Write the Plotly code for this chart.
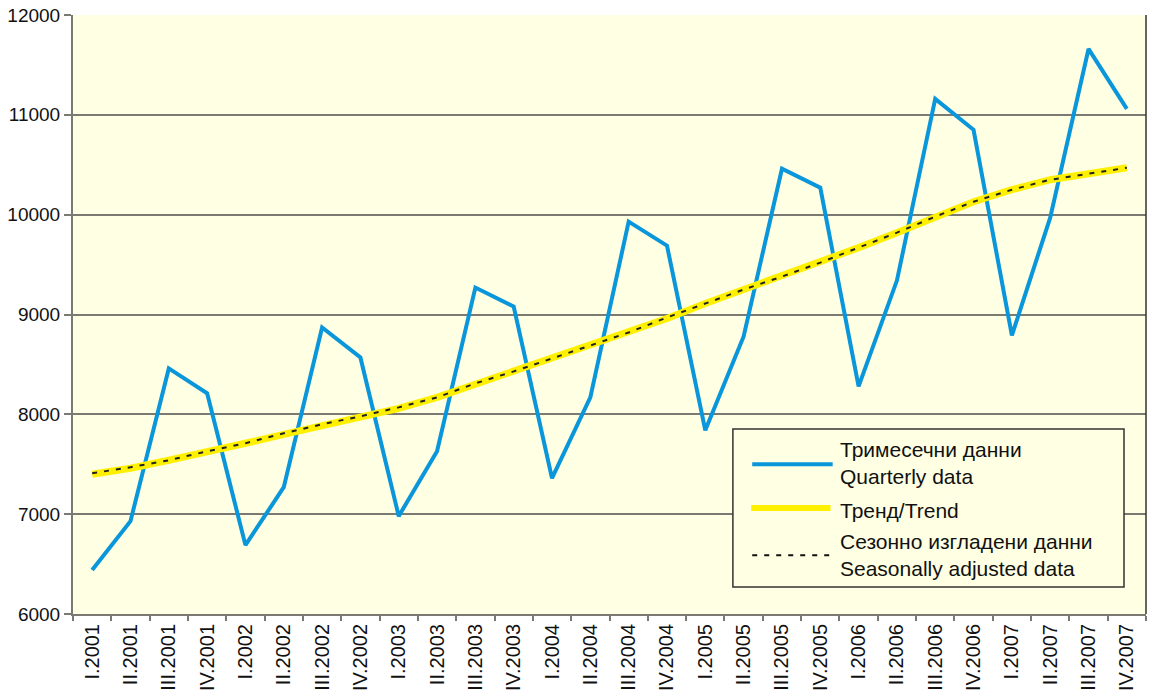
import plotly.graph_objects as go

quarters = [
    "I.2001", "II.2001", "III.2001", "IV.2001",
    "I.2002", "II.2002", "III.2002", "IV.2002",
    "I.2003", "II.2003", "III.2003", "IV.2003",
    "I.2004", "II.2004", "III.2004", "IV.2004",
    "I.2005", "II.2005", "III.2005", "IV.2005",
    "I.2006", "II.2006", "III.2006", "IV.2006",
    "I.2007", "II.2007", "III.2007", "IV.2007",
]

quarterly = [
    6440, 6930, 8460, 8210,
    6690, 7270, 8870, 8570,
    6980, 7630, 9270, 9080,
    7360, 8170, 9930, 9690,
    7840, 8780, 10460, 10270,
    8280, 9340, 11160, 10850,
    8790, 9970, 11660, 11060,
]

trend = [
    7400, 7460, 7540, 7620,
    7710, 7800, 7890, 7980,
    8060, 8170, 8300, 8430,
    8560, 8690, 8820, 8960,
    9110, 9250, 9380, 9520,
    9670, 9820, 9980, 10130,
    10250, 10350, 10410, 10470,
]

seas_adj = [
    7410, 7470, 7540, 7630,
    7710, 7810, 7900, 7980,
    8070, 8170, 8310, 8430,
    8560, 8690, 8820, 8970,
    9110, 9250, 9380, 9520,
    9670, 9820, 9980, 10130,
    10250, 10350, 10410, 10470,
]

y_ticks = [6000, 7000, 8000, 9000, 10000, 11000, 12000]

legend_lines = [
    "Тримесечни данни<br>Quarterly data",
    "Тренд/Trend",
    "Сезонно изгладени данни<br>Seasonally adjusted data",
]

BLUE = "#0A96DA"
YELLOW = "#FFF000"
BG = "#FFFFE3"
GRID = "#7A7A72"
FONT = "Liberation Sans, Arial, Helvetica, sans-serif"

fig = go.Figure()

fig.add_trace(go.Scatter(
    x=quarters, y=quarterly, mode="lines",
    line=dict(color=BLUE, width=4),
    showlegend=False, hoverinfo="none",
))
fig.add_trace(go.Scatter(
    x=quarters, y=trend, mode="lines",
    line=dict(color=YELLOW, width=7),
    showlegend=False, hoverinfo="none",
))
fig.add_trace(go.Scatter(
    x=quarters, y=seas_adj, mode="lines",
    line=dict(color="#222222", width=2, dash="5px,7px"),
    showlegend=False, hoverinfo="none",
))

# hand made legend box (paper coords of the plot area)
shapes = [
    dict(type="rect", xref="paper", yref="paper",
         x0=0.615, x1=0.9795, y0=0.045, y1=0.309,
         line=dict(color="#333333", width=1.5), fillcolor=BG, layer="above"),
    dict(type="line", xref="paper", yref="paper",
         x0=0.633, x1=0.708, y0=0.25, y1=0.25,
         line=dict(color=BLUE, width=4), layer="above"),
    dict(type="line", xref="paper", yref="paper",
         x0=0.632, x1=0.706, y0=0.177, y1=0.177,
         line=dict(color=YELLOW, width=6), layer="above"),
    dict(type="line", xref="paper", yref="paper",
         x0=0.633, x1=0.708, y0=0.098, y1=0.098,
         line=dict(color="#111111", width=2, dash="5px,7px"), layer="above"),
    # darker right border of the plot area
    dict(type="line", xref="paper", yref="paper",
         x0=1, x1=1, y0=0, y1=1,
         line=dict(color="#333333", width=1.5)),
]

annotations = []
for txt, yy in zip(legend_lines, [0.252, 0.173, 0.098]):
    annotations.append(dict(
        xref="paper", yref="paper", x=0.713, y=yy,
        xanchor="left", yanchor="middle", align="left",
        text=txt, showarrow=False,
        font=dict(family=FONT, size=21, color="#111111"),
    ))

fig.update_layout(
    width=1154, height=698,
    margin=dict(l=73, r=8, t=15, b=84),
    paper_bgcolor="white",
    plot_bgcolor=BG,
    font=dict(family=FONT, color="#111111"),
    shapes=shapes,
    annotations=annotations,
    xaxis=dict(
        type="category",
        range=[-0.5, 27.5],
        tickangle=-90,
        tickfont=dict(size=20, family=FONT, color="#111111"),
        ticks="outside", ticklen=5, tickcolor=GRID, tickwidth=1.5,
        tickson="boundaries",
        showgrid=False,
        showline=True, linecolor=GRID, linewidth=2,
        zeroline=False,
        automargin=False,
    ),
    yaxis=dict(
        range=[6000, 12000],
        tickvals=y_ticks,
        tickformat="d",
        tickfont=dict(size=19, family=FONT, color="#111111"),
        ticks="outside", ticklen=7, tickcolor=GRID, tickwidth=1.5,
        showgrid=True, gridcolor=GRID, gridwidth=2,
        showline=True, linecolor=GRID, linewidth=2,
        zeroline=False,
        automargin=False,
    ),
)

# drop the default body margin so the figure fills the window exactly
fig.write_html(
    "out.html",
    config={"displayModeBar": False},
    post_script="document.body.style.margin='0';document.body.style.overflow='hidden';",
)
